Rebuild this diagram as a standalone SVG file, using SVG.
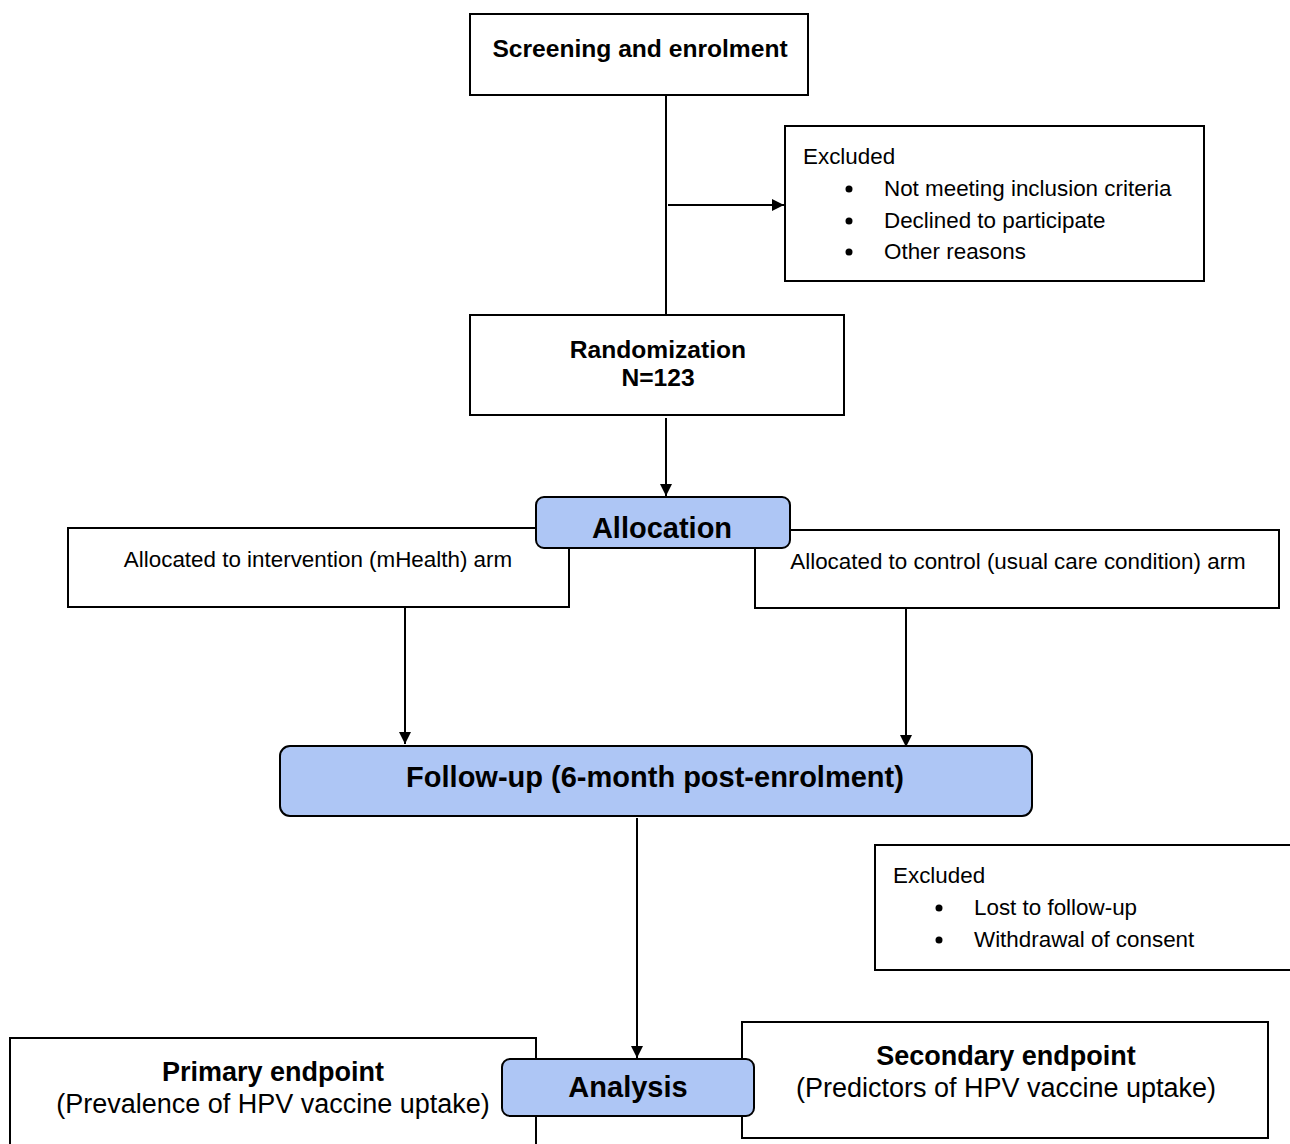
<svg xmlns="http://www.w3.org/2000/svg" width="1290" height="1144" viewBox="0 0 1290 1144">
<defs>
<marker id="arr" viewBox="0 0 10 10" refX="10" refY="5" markerWidth="12" markerHeight="12" markerUnits="userSpaceOnUse" orient="auto">
<path d="M0,0 L10,5 L0,10 z" fill="#000"/>
</marker>
<style>
.box{fill:#fff;stroke:#000;stroke-width:2}
.blue{fill:#aec6f5;stroke:#000;stroke-width:2}
.t{font-family:"Liberation Sans",Arial,sans-serif;fill:#000}
.b{font-weight:bold}
.c{text-anchor:middle}
.s{font-size:22.4px}
.m{font-size:24.6px}
.l{font-size:27px}
.xl{font-size:29px}
.ln{stroke:#000;stroke-width:2;fill:none}
</style>
</defs>
<rect width="1290" height="1144" fill="#fff"/>
<g id="connectors">
<line class="ln" x1="666" y1="95" x2="666" y2="315"/>
<line class="ln" x1="668" y1="205" x2="784" y2="205" marker-end="url(#arr)"/>
<line class="ln" x1="666" y1="418" x2="666" y2="496" marker-end="url(#arr)"/>
<line class="ln" x1="405" y1="608" x2="405" y2="744" marker-end="url(#arr)"/>
<line class="ln" x1="906" y1="608" x2="906" y2="747" marker-end="url(#arr)"/>
<line class="ln" x1="637" y1="818" x2="637" y2="1058" marker-end="url(#arr)"/>
</g>
<g id="screening">
<rect class="box" x="470" y="14" width="338" height="81"/>
<text class="t b c m" x="640" y="57">Screening and enrolment</text>
</g>
<g id="excluded1">
<rect class="box" x="785" y="126" width="419" height="155"/>
<text class="t s" x="803" y="164">Excluded</text>
<circle cx="849" cy="189" r="3.5"/>
<circle cx="849" cy="221" r="3.5"/>
<circle cx="849" cy="252" r="3.5"/>
<text class="t s" x="884" y="196">Not meeting inclusion criteria</text>
<text class="t s" x="884" y="228">Declined to participate</text>
<text class="t s" x="884" y="259">Other reasons</text>
</g>
<g id="randomization">
<rect class="box" x="470" y="315" width="374" height="100"/>
<text class="t b c m" x="658" y="358">Randomization</text>
<text class="t b c m" x="658" y="386">N=123</text>
</g>
<g id="arm-intervention">
<rect class="box" x="68" y="528" width="501" height="79"/>
<text class="t c s" x="318" y="567">Allocated to intervention (mHealth) arm</text>
</g>
<g id="arm-control">
<rect class="box" x="755" y="530" width="524" height="78"/>
<text class="t c s" x="1018" y="569">Allocated to control (usual care condition) arm</text>
</g>
<g id="allocation">
<rect class="blue" x="536" y="497" width="254" height="51" rx="8"/>
<text class="t b c xl" x="662" y="538">Allocation</text>
</g>
<g id="followup">
<rect class="blue" x="280" y="746" width="752" height="70" rx="10"/>
<text class="t b c xl" x="655" y="787">Follow-up (6-month post-enrolment)</text>
</g>
<g id="excluded2">
<rect class="box" x="875" y="845" width="420" height="125"/>
<text class="t s" x="893" y="883">Excluded</text>
<circle cx="939" cy="908" r="3.5"/>
<circle cx="939" cy="940" r="3.5"/>
<text class="t s" x="974" y="915">Lost to follow-up</text>
<text class="t s" x="974" y="947">Withdrawal of consent</text>
</g>
<g id="primary">
<rect class="box" x="10" y="1038" width="526" height="120"/>
<text class="t b c l" x="273" y="1081">Primary endpoint</text>
<text class="t c l" x="273" y="1113">(Prevalence of HPV vaccine uptake)</text>
</g>
<g id="secondary">
<rect class="box" x="742" y="1022" width="526" height="116"/>
<text class="t b c l" x="1006" y="1065">Secondary endpoint</text>
<text class="t c l" x="1006" y="1097">(Predictors of HPV vaccine uptake)</text>
</g>
<g id="analysis">
<rect class="blue" x="502" y="1059" width="252" height="57" rx="8"/>
<text class="t b c xl" x="628" y="1097">Analysis</text>
</g>
</svg>
